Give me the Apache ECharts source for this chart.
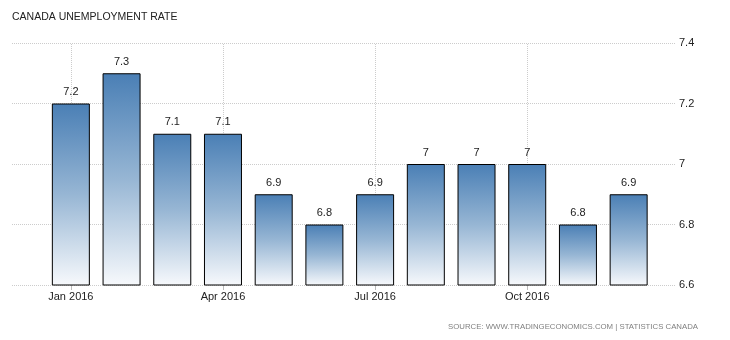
<!DOCTYPE html>
<html><head><meta charset="utf-8">
<script src="https://cdn.jsdelivr.net/npm/echarts@6/dist/echarts.min.js"></script>
<style>html,body{margin:0;padding:0;background:#fff}#c{width:730px;height:340px}</style>
</head><body><div id="c"></div>
<script>
var categories = ['Jan 2016','Feb 2016','Mar 2016','Apr 2016','May 2016','Jun 2016','Jul 2016','Aug 2016','Sep 2016','Oct 2016','Nov 2016','Dec 2016'];
var values = [7.2, 7.3, 7.1, 7.1, 6.9, 6.8, 6.9, 7, 7, 7, 6.8, 6.9];
var yTicks = [6.6, 6.8, 7, 7.2, 7.4];
var gridMonths = ['Jan 2016', 'Apr 2016', 'Jul 2016', 'Oct 2016'];
var titleText = 'CANADA UNEMPLOYMENT RATE';
var sourceText = 'SOURCE: WWW.TRADINGECONOMICS.COM | STATISTICS CANADA';

var font = 'Liberation Sans, Arial, sans-serif';
var chart = echarts.init(document.getElementById('c'));
chart.setOption({
  animation: false,
  backgroundColor: '#fff',
  title: [
    {text: titleText, left: 7, top: 7, textStyle: {fontSize: 10.5, fontWeight: 'normal', color: '#222', fontFamily: font}},
    {text: sourceText, right: 27, top: 318, textStyle: {fontSize: 7.8, fontWeight: 'normal', color: '#7f7f7f', fontFamily: font}}
  ],
  grid: [
    {left: 12, right: 54, top: 43, bottom: 55},
    {left: 45.5, right: 76, top: 43, bottom: 55}
  ],
  xAxis: [
    {gridIndex: 0, type: 'value', show: false},
    {gridIndex: 1, type: 'category', data: categories, boundaryGap: true,
     axisLine: {show: false},
     axisTick: {show: true, interval: 2, alignWithLabel: true, length: 5, lineStyle: {color: '#bbb'}},
     axisLabel: {interval: 2, color: '#222', fontSize: 11, fontFamily: font, margin: 6},
     splitLine: {show: false}}
  ],
  yAxis: [
    {gridIndex: 0, type: 'value', position: 'right', min: yTicks[0], max: yTicks[yTicks.length-1], interval: 0.2,
     axisLine: {show: false}, axisTick: {show: false},
     axisLabel: {color: '#222', fontSize: 11, fontFamily: font, margin: 3, formatter: function(v){return String(+v.toFixed(1));}},
     splitLine: {show: true, lineStyle: {color: '#ccc', type: 'dotted'}}},
    {gridIndex: 1, type: 'value', min: yTicks[0], max: yTicks[yTicks.length-1], show: false}
  ],
  series: [{
    type: 'bar', xAxisIndex: 1, yAxisIndex: 1, data: values, barWidth: 38, z: 3,
    itemStyle: {
      color: new echarts.graphic.LinearGradient(0, 0, 0, 1, [
        {offset: 0, color: '#4a7fb5'}, {offset: 0.5, color: '#97b6d4'}, {offset: 1, color: '#f7f9fc'}
      ]),
      borderColor: '#000', borderWidth: 1
    },
    label: {show: true, position: 'top', distance: 6, color: '#222', fontSize: 11, fontFamily: font,
      formatter: function(p){return String(p.value);}},
    markLine: {
      z: 1, silent: true, symbol: 'none', label: {show: false},
      lineStyle: {color: '#ccc', type: 'dotted', width: 1},
      data: gridMonths.map(function(m){return {xAxis: m};})
    }
  }]
});
</script></body></html>
